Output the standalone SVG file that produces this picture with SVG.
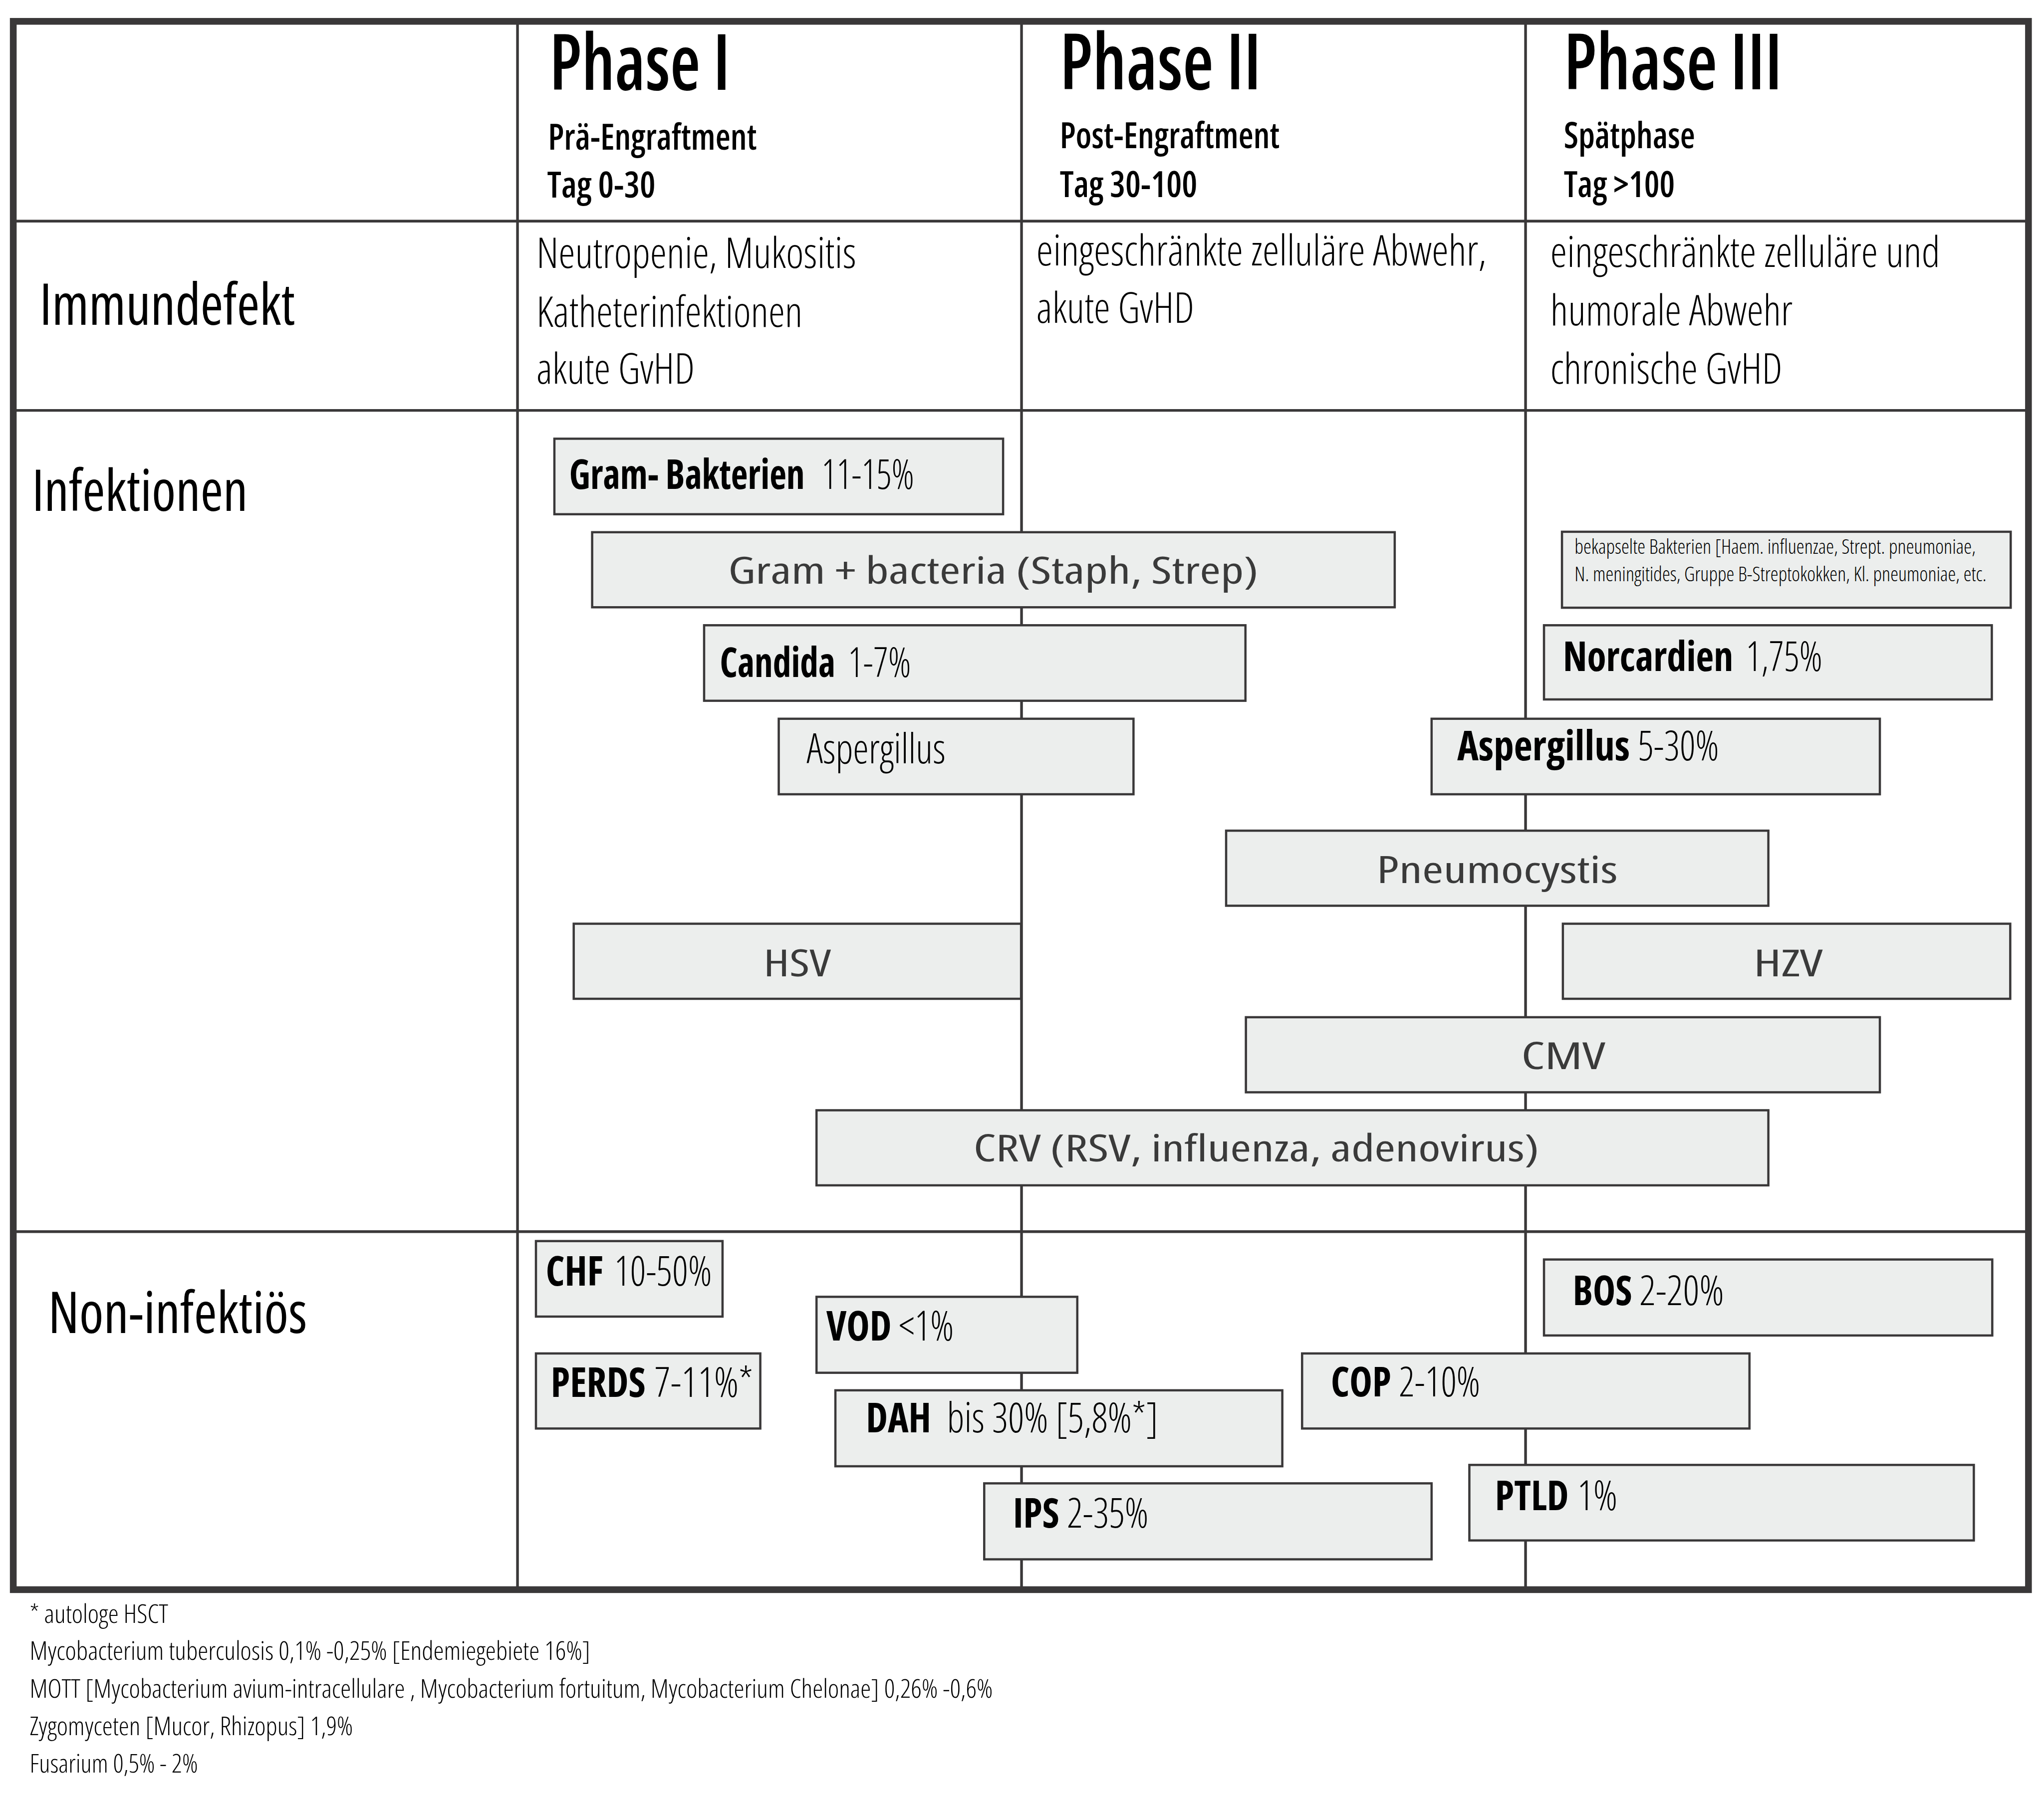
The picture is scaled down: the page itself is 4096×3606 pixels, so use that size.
<svg xmlns="http://www.w3.org/2000/svg" width="4096" height="3606" viewBox="0 0 4096 3606">
<style>
text{font-family:"Open Sans","Liberation Sans",sans-serif;font-stretch:condensed;fill:#000}
.h{font-size:172px;font-weight:600}
.sh{font-size:80px;font-weight:600}
.rl{font-size:128px;font-weight:400}
.im{font-size:95px;font-weight:300}
.pair{font-size:92px}
.bd{font-weight:700}
.lt{font-weight:300}
.g{font-size:84px;font-weight:400;fill:#3a3a3a}
.sm{font-size:45px;font-weight:300}
.fn{font-size:58px;font-weight:300}
.box{fill:#eceeed;stroke:#3a3839;stroke-width:5}
.grid{stroke:#3a3839;stroke-width:6;fill:none}
.outer{stroke:#3a3839;stroke-width:15;fill:none}
</style>
<rect width="4096" height="3606" fill="#fff"/>
<g transform="scale(0.901)">
<g id="connectors">
<line class="grid" x1="1151" y1="47" x2="1151" y2="3537"/>
<line class="grid" x1="2272" y1="47" x2="2272" y2="3537"/>
<line class="grid" x1="3393" y1="47" x2="3393" y2="3537"/>
<line class="grid" x1="29" y1="492" x2="4512" y2="492"/>
<line class="grid" x1="29" y1="913" x2="4512" y2="913"/>
<line class="grid" x1="29" y1="2740" x2="4512" y2="2740"/>
<rect class="outer" x="29.5" y="47.5" width="4482" height="3489"/>
</g>
<g id="header-phase1">
<text class="h" x="1222" y="200" textLength="402" lengthAdjust="spacingAndGlyphs">Phase I</text>
<text class="sh" x="1219" y="333" textLength="464" lengthAdjust="spacingAndGlyphs">Prä-Engraftment</text>
<text class="sh" x="1217" y="440" textLength="241" lengthAdjust="spacingAndGlyphs">Tag 0-30</text>
</g>
<g id="header-phase2">
<text class="h" x="2357" y="199" textLength="448" lengthAdjust="spacingAndGlyphs">Phase II</text>
<text class="sh" x="2357" y="330" textLength="489" lengthAdjust="spacingAndGlyphs">Post-Engraftment</text>
<text class="sh" x="2357" y="438" textLength="306" lengthAdjust="spacingAndGlyphs">Tag 30-100</text>
</g>
<g id="header-phase3">
<text class="h" x="3478" y="199" textLength="486" lengthAdjust="spacingAndGlyphs">Phase III</text>
<text class="sh" x="3478" y="330" textLength="292" lengthAdjust="spacingAndGlyphs">Spätphase</text>
<text class="sh" x="3478" y="438" textLength="247" lengthAdjust="spacingAndGlyphs">Tag &gt;100</text>
</g>
<g id="label-immundefekt">
<text class="rl" x="88" y="723" textLength="568" lengthAdjust="spacingAndGlyphs">Immundefekt</text>
</g>
<g id="label-infektionen">
<text class="rl" x="71" y="1137" textLength="480" lengthAdjust="spacingAndGlyphs">Infektionen</text>
</g>
<g id="label-noninfektioes">
<text class="rl" x="107" y="2966" textLength="576" lengthAdjust="spacingAndGlyphs">Non-infektiös</text>
</g>
<g id="immun-phase1">
<text class="im" x="1193" y="596" textLength="711" lengthAdjust="spacingAndGlyphs">Neutropenie, Mukositis</text>
<text class="im" x="1193" y="727" textLength="592" lengthAdjust="spacingAndGlyphs">Katheterinfektionen</text>
<text class="im" x="1193" y="854" textLength="352" lengthAdjust="spacingAndGlyphs">akute GvHD</text>
</g>
<g id="immun-phase2">
<text class="im" x="2305" y="591" textLength="1001" lengthAdjust="spacingAndGlyphs">eingeschränkte zelluläre Abwehr,</text>
<text class="im" x="2305" y="718" textLength="351" lengthAdjust="spacingAndGlyphs">akute GvHD</text>
</g>
<g id="immun-phase3">
<text class="im" x="3448" y="594" textLength="867" lengthAdjust="spacingAndGlyphs">eingeschränkte zelluläre und</text>
<text class="im" x="3448" y="724" textLength="539" lengthAdjust="spacingAndGlyphs">humorale Abwehr</text>
<text class="im" x="3448" y="853" textLength="516" lengthAdjust="spacingAndGlyphs">chronische GvHD</text>
</g>
<g id="gram-neg">
<rect class="box" x="1233" y="976" width="998" height="168"/>
<text class="pair" y="1088"><tspan class="bd" x="1266" textLength="524" lengthAdjust="spacingAndGlyphs">Gram- Bakterien</tspan><tspan class="lt" x="1827" textLength="206" lengthAdjust="spacingAndGlyphs">11-15%</tspan></text>
</g>
<g id="gram-pos">
<rect class="box" x="1317" y="1184" width="1785" height="167"/>
<text class="g" x="2209" y="1299" text-anchor="middle" textLength="1179" lengthAdjust="spacingAndGlyphs">Gram + bacteria (Staph, Strep)</text>
</g>
<g id="candida">
<rect class="box" x="1566" y="1391" width="1204" height="168"/>
<text class="pair" y="1506"><tspan class="bd" x="1601" textLength="257" lengthAdjust="spacingAndGlyphs">Candida</tspan><tspan class="lt" x="1886" textLength="140" lengthAdjust="spacingAndGlyphs">1-7%</tspan></text>
</g>
<g id="aspergillus-1">
<rect class="box" x="1732" y="1599" width="789" height="168"/>
<text class="pair lt" x="1794" y="1698" textLength="309" lengthAdjust="spacingAndGlyphs">Aspergillus</text>
</g>
<g id="bekapselte">
<rect class="box" x="3474" y="1183" width="998" height="169"/>
<text class="sm" x="3502" y="1232" textLength="892" lengthAdjust="spacingAndGlyphs">bekapselte Bakterien [Haem. influenzae, Strept. pneumoniae,</text>
<text class="sm" x="3502" y="1293" textLength="916" lengthAdjust="spacingAndGlyphs">N. meningitides, Gruppe B-Streptokokken, Kl. pneumoniae, etc.</text>
</g>
<g id="norcardien">
<rect class="box" x="3434" y="1391" width="996" height="165"/>
<text class="pair" y="1493"><tspan class="bd" x="3476" textLength="379" lengthAdjust="spacingAndGlyphs">Norcardien</tspan><tspan class="lt" x="3883" textLength="170" lengthAdjust="spacingAndGlyphs">1,75%</tspan></text>
</g>
<g id="aspergillus-3">
<rect class="box" x="3184" y="1599" width="997" height="168"/>
<text class="pair" y="1691"><tspan class="bd" x="3241" textLength="384" lengthAdjust="spacingAndGlyphs">Aspergillus</tspan><tspan class="lt" x="3643" textLength="180" lengthAdjust="spacingAndGlyphs">5-30%</tspan></text>
</g>
<g id="pneumocystis">
<rect class="box" x="2727" y="1848" width="1206" height="167"/>
<text class="g" x="3330" y="1964" text-anchor="middle" textLength="536" lengthAdjust="spacingAndGlyphs">Pneumocystis</text>
</g>
<g id="hsv">
<rect class="box" x="1276" y="2055" width="995" height="167"/>
<text class="g" x="1773" y="2172" text-anchor="middle" textLength="150" lengthAdjust="spacingAndGlyphs">HSV</text>
</g>
<g id="hzv">
<rect class="box" x="3476" y="2055" width="995" height="167"/>
<text class="g" x="3977" y="2172" text-anchor="middle" textLength="154" lengthAdjust="spacingAndGlyphs">HZV</text>
</g>
<g id="cmv">
<rect class="box" x="2771" y="2263" width="1410" height="167"/>
<text class="g" x="3477" y="2378" text-anchor="middle" textLength="187" lengthAdjust="spacingAndGlyphs">CMV</text>
</g>
<g id="crv">
<rect class="box" x="1816" y="2470" width="2117" height="167"/>
<text class="g" x="2165" y="2584" textLength="1258" lengthAdjust="spacingAndGlyphs">CRV (RSV, influenza, adenovirus)</text>
</g>
<g id="chf">
<rect class="box" x="1192" y="2761" width="415" height="168"/>
<text class="pair" y="2860"><tspan class="bd" x="1214" textLength="128" lengthAdjust="spacingAndGlyphs">CHF</tspan><tspan class="lt" x="1366" textLength="217" lengthAdjust="spacingAndGlyphs">10-50%</tspan></text>
</g>
<g id="vod">
<rect class="box" x="1816" y="2885" width="580" height="169"/>
<text class="pair" y="2982"><tspan class="bd" x="1838" textLength="145" lengthAdjust="spacingAndGlyphs">VOD</tspan><tspan class="lt" x="1999" textLength="122" lengthAdjust="spacingAndGlyphs">&lt;1%</tspan></text>
</g>
<g id="perds">
<rect class="box" x="1192" y="3011" width="499" height="167"/>
<text class="pair" y="3108"><tspan class="bd" x="1225" textLength="211" lengthAdjust="spacingAndGlyphs">PERDS</tspan><tspan class="lt" x="1455" textLength="220" lengthAdjust="spacingAndGlyphs">7-11%*</tspan></text>
</g>
<g id="dah">
<rect class="box" x="1858" y="3093" width="994" height="169"/>
<text class="pair" y="3187"><tspan class="bd" x="1926" textLength="145" lengthAdjust="spacingAndGlyphs">DAH</tspan><tspan class="lt" x="2106" textLength="470" lengthAdjust="spacingAndGlyphs">bis 30% [5,8%*]</tspan></text>
</g>
<g id="ips">
<rect class="box" x="2189" y="3300" width="995" height="169"/>
<text class="pair" y="3398"><tspan class="bd" x="2253" textLength="103" lengthAdjust="spacingAndGlyphs">IPS</tspan><tspan class="lt" x="2373" textLength="181" lengthAdjust="spacingAndGlyphs">2-35%</tspan></text>
</g>
<g id="bos">
<rect class="box" x="3434" y="2802" width="997" height="169"/>
<text class="pair" y="2903"><tspan class="bd" x="3498" textLength="132" lengthAdjust="spacingAndGlyphs">BOS</tspan><tspan class="lt" x="3646" textLength="188" lengthAdjust="spacingAndGlyphs">2-20%</tspan></text>
</g>
<g id="cop">
<rect class="box" x="2896" y="3011" width="995" height="167"/>
<text class="pair" y="3106"><tspan class="bd" x="2960" textLength="134" lengthAdjust="spacingAndGlyphs">COP</tspan><tspan class="lt" x="3111" textLength="181" lengthAdjust="spacingAndGlyphs">2-10%</tspan></text>
</g>
<g id="ptld">
<rect class="box" x="3268" y="3259" width="1122" height="168"/>
<text class="pair" y="3360"><tspan class="bd" x="3325" textLength="164" lengthAdjust="spacingAndGlyphs">PTLD</tspan><tspan class="lt" x="3508" textLength="89" lengthAdjust="spacingAndGlyphs">1%</tspan></text>
</g>
<g id="footnotes">
<text class="fn" x="66" y="3610" textLength="308" lengthAdjust="spacingAndGlyphs">* autologe HSCT</text>
<text class="fn" x="66" y="3693" textLength="1247" lengthAdjust="spacingAndGlyphs">Mycobacterium tuberculosis 0,1% -0,25% [Endemiegebiete 16%]</text>
<text class="fn" x="66" y="3777" textLength="2142" lengthAdjust="spacingAndGlyphs">MOTT [Mycobacterium avium-intracellulare , Mycobacterium fortuitum, Mycobacterium Chelonae] 0,26% -0,6%</text>
<text class="fn" x="66" y="3860" textLength="719" lengthAdjust="spacingAndGlyphs">Zygomyceten [Mucor, Rhizopus] 1,9%</text>
<text class="fn" x="66" y="3943" textLength="374" lengthAdjust="spacingAndGlyphs">Fusarium 0,5% - 2%</text>
</g>
</g>
</svg>
